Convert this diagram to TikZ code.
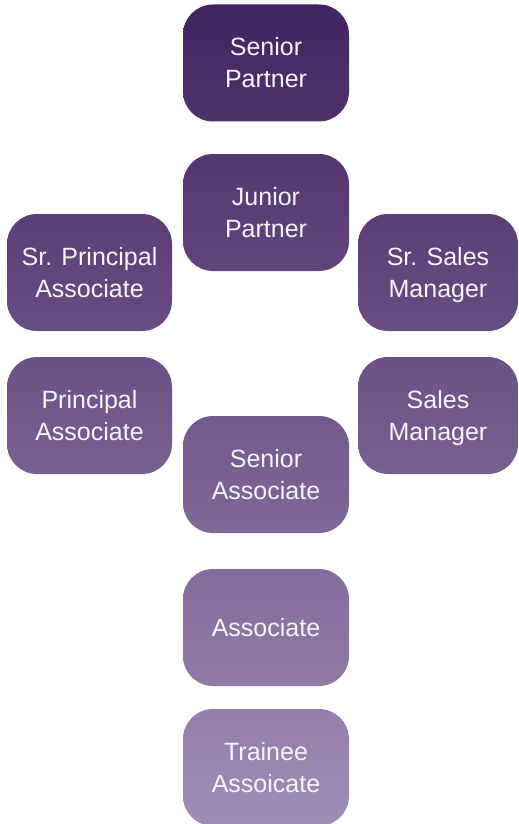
\documentclass[tikz,border=0pt]{standalone}
\usepackage{fontspec}
\setmainfont{Liberation Sans}
\definecolor{gdark}{RGB}{66,34,94}
\definecolor{glight}{RGB}{160,142,182}
\definecolor{textwhite}{RGB}{246,243,249}
\newcommand{\nodepth}[1]{\raisebox{0pt}[\height][0pt]{#1}}
\begin{document}
\begin{tikzpicture}[x=1pt,y=-1pt,
  rolebox/.style={rectangle, rounded corners=30pt, inner sep=0pt,
    minimum height=117pt, text=textwhite, align=center,
    font=\fontsize{25}{32}\selectfont},
  wide/.style={minimum width=166pt},
  narrow/.style={minimum width=160pt}]
\useasboundingbox (0,0) rectangle (519,824);
\begin{scope}
\clip (0,0) rectangle (519,824);
\node[rolebox,wide,top color=glight!1!gdark,bottom color=glight!15!gdark] (sp) at (266,63) {Senior\\Partner};
\node[rolebox,wide,top color=glight!19!gdark,bottom color=glight!33!gdark] (jp) at (266,212.5) {Junior\\Partner};
\node[rolebox,minimum width=165pt,top color=glight!26!gdark,bottom color=glight!40!gdark] (spa) at (89.5,272.5) {Sr. Principal\\Associate};
\node[rolebox,narrow,top color=glight!26!gdark,bottom color=glight!40!gdark] (ssm) at (438,272.5) {Sr. Sales\\\nodepth{Manager}};
\node[rolebox,minimum width=165pt,top color=glight!43!gdark,bottom color=glight!58!gdark] (pa) at (89.5,415.5) {Principal\\Associate};
\node[rolebox,narrow,top color=glight!43!gdark,bottom color=glight!58!gdark] (sm) at (438,415.5) {Sales\\\nodepth{Manager}};
\node[rolebox,wide,top color=glight!51!gdark,bottom color=glight!65!gdark] (sa) at (266,474.5) {Senior\\Associate};
\node[rolebox,wide,top color=glight!69!gdark,bottom color=glight!83!gdark] (a) at (266,627.5) {Associate};
\node[rolebox,wide,top color=glight!86!gdark,bottom color=glight!100!gdark] (ta) at (266,767.5) {Trainee\\Assoicate};
\end{scope}
\end{tikzpicture}
\end{document}
